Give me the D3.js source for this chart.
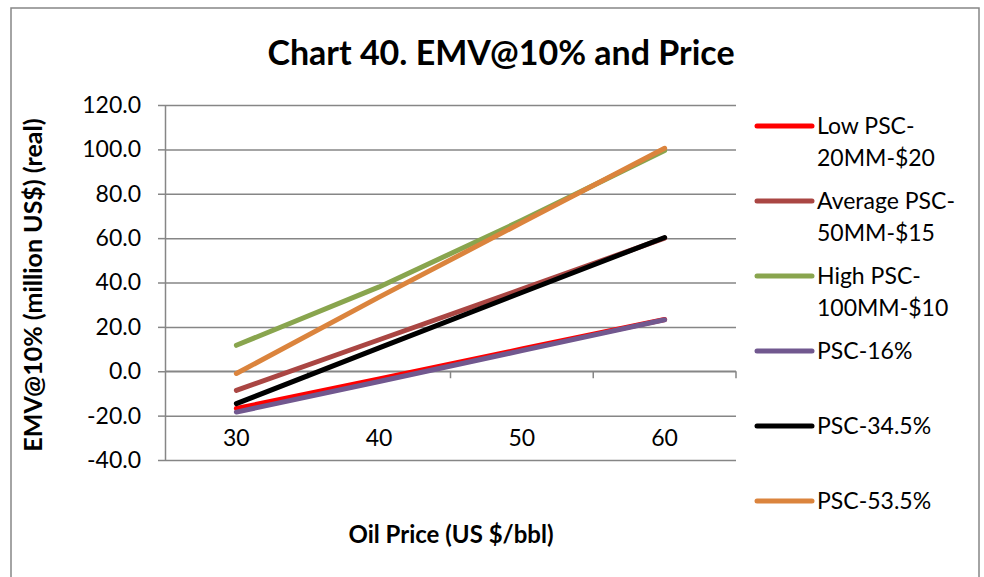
<!DOCTYPE html>
<html>
<head>
<meta charset="utf-8">
<script src="https://cdn.jsdelivr.net/npm/d3@7"></script>
<style>
  body { margin: 0; background: #fff; }
  text { font-family: Lato, "Open Sans", sans-serif; fill: #000; }
</style>
</head>
<body>
<div id="chart"></div>
<script>
var width = 984;
var height = 577;

// data
var prices = ["30", "40", "50", "60"];
var lowPSC = [-16.8, -3.5, 10.0, 23.3];
var avgPSC = [-8.6, 14.2, 37.0, 60.0];
var highPSC = [11.7, 38.0, 68.0, 99.5];
var psc16 = [-18.4, -4.6, 9.3, 23.2];
var psc345 = [-14.6, 10.5, 35.5, 60.3];
var psc535 = [-1.0, 33.4, 67.0, 100.5];
var seriesNames = [["Low PSC-", "20MM-$20"], ["Average PSC-", "50MM-$15"], ["High PSC-", "100MM-$10"], ["PSC-16%"], ["PSC-34.5%"], ["PSC-53.5%"]];
var seriesColors = ["#ff0000", "#aa4643", "#89a54e", "#71588f", "#000000", "#db843d"];
var yTicks = [-40, -20, 0, 20, 40, 60, 80, 100, 120];

var allSeries = [lowPSC, avgPSC, highPSC, psc16, psc345, psc535];

var svg = d3.select("#chart").append("svg")
  .attr("width", width)
  .attr("height", height);

// outer chart border
svg.append("rect")
  .attr("x", 11).attr("y", 8)
  .attr("width", 968).attr("height", 600)
  .attr("fill", "#fff")
  .attr("stroke", "#868686")
  .attr("stroke-width", 1.5);

var plotLeft = 165, plotRight = 736, plotTop = 105, plotBottom = 460;

var xScale = d3.scalePoint().domain(prices).range([plotLeft, plotRight]).padding(0.5);
var yScale = d3.scaleLinear().domain([-40, 120]).range([plotBottom, plotTop]);
var step = xScale.step();

// gridlines
svg.append("g")
  .attr("transform", "translate(" + plotLeft + ",0)")
  .call(d3.axisLeft(yScale).tickValues(yTicks).tickSize(-(plotRight - plotLeft)).tickFormat(""))
  .call(function (g) {
    g.select(".domain").remove();
    g.selectAll("line").attr("stroke", "#868686").attr("stroke-width", 1.5);
  });

// y axis (plain hyphen for negatives, like the original)
svg.append("g")
  .attr("transform", "translate(" + plotLeft + ",0)")
  .call(d3.axisLeft(yScale).tickValues(yTicks).tickSize(7).tickSizeOuter(0).tickPadding(17)
    .tickFormat(function (d) { return d.toFixed(1); }))
  .call(function (g) {
    g.select(".domain").attr("stroke", "#868686").attr("stroke-width", 1.5);
    g.selectAll("line").attr("stroke", "#868686").attr("stroke-width", 1.5);
    g.selectAll("text").style("font-family", "Lato").style("font-size", "23px").attr("fill", "#000");
  });

// x axis on the zero line, ticks between categories
var xTickPos = prices.map(function (p) { return xScale(p) + step / 2; });
var xAxisG = svg.append("g").attr("transform", "translate(0," + yScale(0) + ")");
xAxisG.append("line")
  .attr("x1", plotLeft).attr("x2", plotRight)
  .attr("stroke", "#868686").attr("stroke-width", 1.5);
xAxisG.selectAll(".xtick").data(xTickPos).enter().append("line")
  .attr("class", "xtick")
  .attr("x1", function (d) { return d; }).attr("x2", function (d) { return d; })
  .attr("y1", 0).attr("y2", 7)
  .attr("stroke", "#868686").attr("stroke-width", 1.5);

// x labels at the bottom
svg.selectAll(".xlab").data(prices).enter().append("text")
  .attr("class", "xlab")
  .attr("x", function (d) { return xScale(d); })
  .attr("y", 446)
  .attr("text-anchor", "middle")
  .style("font-size", "23px")
  .text(function (d) { return d; });

// lines
var line = d3.line()
  .x(function (d, i) { return xScale(prices[i]); })
  .y(function (d) { return yScale(d); });

svg.selectAll(".series").data(allSeries).enter().append("path")
  .attr("class", "series")
  .attr("d", line)
  .attr("fill", "none")
  .attr("stroke", function (d, i) { return seriesColors[i]; })
  .attr("stroke-width", 5)
  .attr("stroke-linecap", "round")
  .attr("stroke-linejoin", "round");

// title
svg.append("text")
  .attr("x", 501).attr("y", 65)
  .attr("text-anchor", "middle")
  .style("font-size", "34px")
  .style("font-weight", "bold")
  .text("Chart 40. EMV@10% and Price");

// axis titles
svg.append("text")
  .attr("x", 451).attr("y", 543)
  .attr("text-anchor", "middle")
  .style("font-size", "24px")
  .style("font-weight", "bold")
  .text("Oil Price (US $/bbl)");

svg.append("text")
  .attr("transform", "translate(42,285) rotate(-90)")
  .attr("text-anchor", "middle")
  .style("font-size", "25px")
  .style("font-weight", "bold")
  .text("EMV@10% (million US$) (real)");

// legend
var legend = svg.selectAll(".legend").data(seriesNames).enter().append("g")
  .attr("class", "legend")
  .attr("transform", function (d, i) { return "translate(757," + (126 + i * 75) + ")"; });

legend.append("line")
  .attr("x1", 0).attr("x2", 55)
  .attr("stroke", function (d, i) { return seriesColors[i]; })
  .attr("stroke-width", 5)
  .attr("stroke-linecap", "round");

legend.each(function (d) {
  var t = d3.select(this).append("text")
    .attr("x", 60).attr("y", 8)
    .style("font-size", "23px");
  d.forEach(function (s, k) {
    t.append("tspan").attr("x", 60).attr("dy", k === 0 ? 0 : 32).text(s);
  });
});
</script>
</body>
</html>
